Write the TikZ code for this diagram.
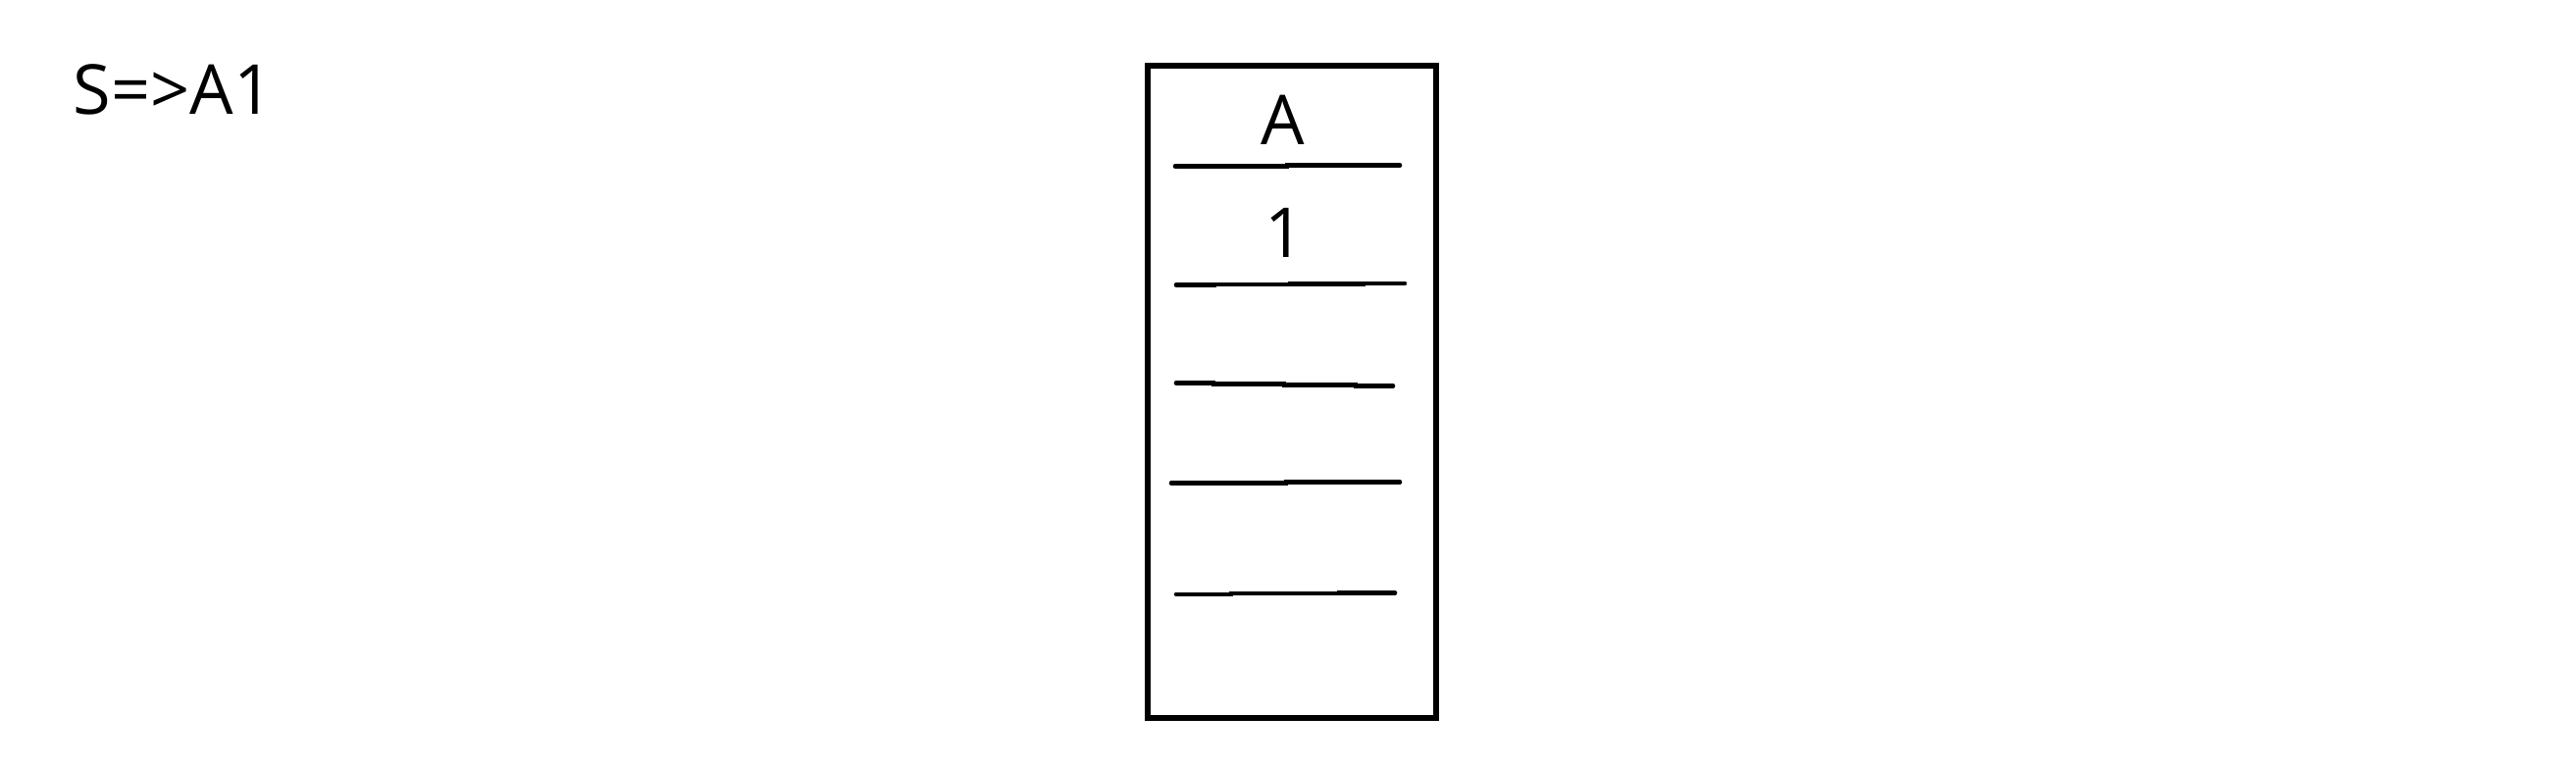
\documentclass[tikz,border=0pt]{standalone}
\usepackage{fontspec}
\setmainfont{Open Sans}
\usepackage{tikz}
\usetikzlibrary{positioning}
\tikzset{
  rule/.style={draw, line width=1.2pt},
  stackbox/.style={draw, rectangle, line width=1.5pt, minimum width=2.94cm, minimum height=6.65cm, inner sep=0pt},
  symb/.style={font=\fontsize{20}{24}\selectfont, inner sep=0pt},
  slot/.style={line width=1.3pt, line cap=round}
}
\begin{document}
\begin{tikzpicture}[x=1cm,y=1cm]
  \useasboundingbox (0,0) rectangle (26.26,7.83);
  \node[symb, anchor=base west] (deriv) at (0.74,6.66) {S=>A1};

  \node[stackbox] (stack) at (13.17,3.835) {};
  \node[symb] (top) at (13.08,6.61) {A};
  \node[symb] (next) at (13.10,5.46) {1};

  % slot separators, drawn by hand
  \draw[slot] (11.98,6.135) -- (13.12,6.135) -- (13.12,6.145) -- (14.27,6.145);
  \draw[slot] (11.99,4.925) -- (12.38,4.925) -- (12.38,4.93) -- (13.15,4.93) -- (13.15,4.935) -- (13.90,4.935) -- (13.90,4.94) -- (14.32,4.94);
  \draw[slot] (11.99,3.925) -- (12.37,3.925) -- (12.37,3.915) -- (13.09,3.915) -- (13.09,3.905) -- (13.82,3.905) -- (13.82,3.895) -- (14.20,3.895);
  \draw[slot] (11.94,2.905) -- (13.11,2.905) -- (13.11,2.915) -- (14.27,2.915);
  \draw[slot] (11.99,1.77) -- (12.55,1.77) -- (12.55,1.78) -- (13.65,1.78) -- (13.65,1.785) -- (14.22,1.785);
\end{tikzpicture}
\end{document}
